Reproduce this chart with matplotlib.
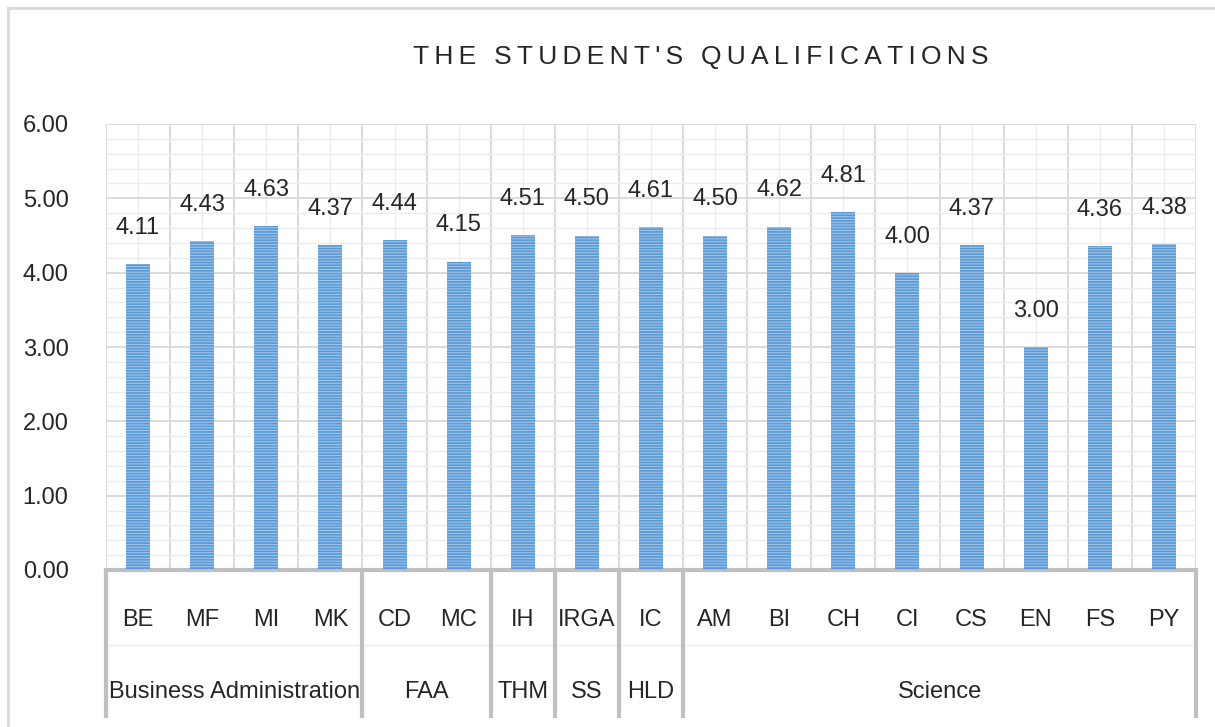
import matplotlib
matplotlib.use('Agg')
import numpy as np
import matplotlib.pyplot as plt
import matplotlib.transforms as mtransforms
from matplotlib.lines import Line2D

# data
programs = ['BE', 'MF', 'MI', 'MK', 'CD', 'MC', 'IH', 'IRGA', 'IC',
            'AM', 'BI', 'CH', 'CI', 'CS', 'EN', 'FS', 'PY']
scores = [4.11, 4.43, 4.63, 4.37, 4.44, 4.15, 4.51, 4.50, 4.61,
          4.50, 4.62, 4.81, 4.00, 4.37, 3.00, 4.36, 4.38]
groups = ['Business Administration', 'FAA', 'THM', 'SS', 'HLD', 'Science']
group_sizes = [4, 2, 1, 1, 1, 8]

plt.rcParams['font.family'] = ['Liberation Sans', 'DejaVu Sans']
plt.rcParams['hatch.linewidth'] = 1.3

fig = plt.figure(figsize=(12.15, 7.27), dpi=100)
ax = fig.add_axes([106/1215, 1 - 570/727, 1090/1215, 446/727])

x = np.arange(len(programs))
ax.bar(x, scores, width=0.375, color='#a9c8ec', edgecolor='#5b9bd5',
       linewidth=0, hatch='------', zorder=3)

for xi, v in zip(x, scores):
    ax.annotate('%.2f' % v, (xi, v), xytext=(0, 26), textcoords='offset points',
                ha='center', va='center', fontsize=17, color='#262626', zorder=4)

ax.set_xlim(-0.5, len(programs) - 0.5)
ax.set_ylim(0, 6)
ax.set_yticks(np.arange(0, 7, 1))
ax.set_yticklabels(['%.2f' % t for t in np.arange(0, 7, 1)])
ax.set_yticks(np.arange(0, 6.01, 0.2), minor=True)
ax.set_xticks(np.arange(-0.5, len(programs), 1))
ax.set_xticks(x, minor=True)
ax.set_xticklabels([])
ax.tick_params(axis='both', which='both', length=0)
ax.tick_params(axis='y', labelsize=17, pad=27, labelcolor='#262626')

ax.grid(which='major', color='#d9d9d9', linewidth=1.3, zorder=0)
ax.grid(which='minor', color='#ececec', linewidth=1.0, zorder=0)
for s in ['top', 'left', 'right']:
    ax.spines[s].set_visible(False)
ax.spines['bottom'].set_color('#bfbfbf')
ax.spines['bottom'].set_linewidth(3)
ax.set_axisbelow(True)

# two-row category axis below the plot
trans = mtransforms.blended_transform_factory(ax.transData, ax.transAxes)
y_prog, y_group, y_end = -50/446, -122/446, -148/446
for xi, p in zip(x, programs):
    ax.text(xi, y_prog, p, transform=trans, ha='center', va='center',
            fontsize=17, color='#262626')

ax.plot([-0.5, len(programs) - 0.5], [-75/446, -75/446], transform=trans,
        color='#eeeeee', linewidth=1, clip_on=False)

start = 0
edges = [-0.5]
for g, n in zip(groups, group_sizes):
    centre = start + (n - 1) / 2
    ax.text(centre, y_group, g, transform=trans, ha='center', va='center',
            fontsize=17, color='#262626')
    start += n
    edges.append(start - 0.5)
for e in edges:
    ax.plot([e, e], [0, y_end], transform=trans, color='#bfbfbf',
            linewidth=3, clip_on=False, solid_capstyle='butt')

fig.text(701/1215, 1 - 57/727, '\u2009'.join("THE STUDENT'S QUALIFICATIONS"),
         ha='center', va='center', fontsize=19, color='#262626',
         family=['Liberation Sans', 'DejaVu Sans'])

# chart frame (only top and left edge show in the crop)
fig.add_artist(Line2D([8/1215, 8/1215], [0, 1 - 8/727], color='#d9d9d9', linewidth=2))
fig.add_artist(Line2D([8/1215, 1], [1 - 8/727, 1 - 8/727], color='#d9d9d9', linewidth=2))

fig.savefig('out.png', dpi=100)
